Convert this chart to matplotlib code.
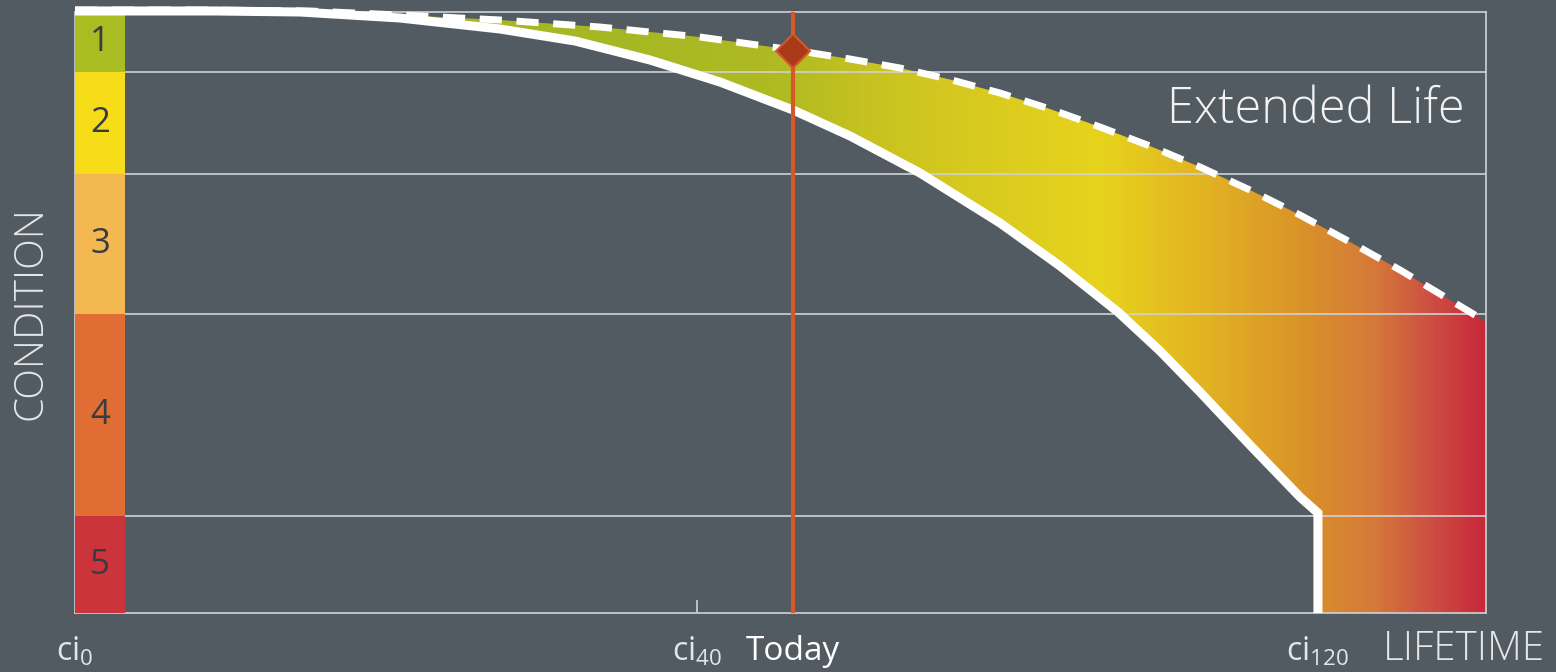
import numpy as np
import matplotlib.pyplot as plt
from matplotlib.colors import LinearSegmentedColormap

plt.rcParams['font.family'] = ['Open Sans', 'DejaVu Sans']
plt.rcParams['mathtext.default'] = 'regular'

# condition bands (y scale 0..100, top = new)
band_edges = [0, 16.1, 49.75, 73.0, 90.0, 100]
band_labels = ["5", "4", "3", "2", "1"]
band_colors = ["#cb343b", "#e06d33", "#f3b84f", "#f7dd19", "#a9bd23"]

# planned life curve (solid)
solid_x = [0, 9.92, 15.95, 23.03, 30.12, 35.44, 40.75, 45.71, 50.89, 54.93, 59.89,
           65.56, 69.81, 73.92, 76.90, 79.73, 83.27, 86.82, 88.09, 88.09]
solid_y = [100.17, 100.17, 100.0, 99.0, 97.17, 95.17, 92.01, 88.35, 83.69, 79.37, 73.21,
           64.89, 57.74, 50.08, 43.59, 36.77, 27.95, 19.30, 16.64, 0]

# extended life curve (dashed)
ext_x = [0, 8.86, 16.65, 23.03, 30.12, 37.21, 44.29, 50.89, 54.93, 58.47, 62.01, 65.56,
         69.10, 72.64, 76.19, 79.73, 83.27, 86.82, 90.36, 93.91, 97.45, 99.57, 100]
ext_y = [100.33, 100.33, 100.17, 99.50, 98.67, 97.50, 95.84, 93.68, 92.18, 90.68, 88.77, 86.52,
         83.86, 80.87, 77.70, 74.21, 70.38, 66.22, 61.73, 57.07, 52.08, 49.08, 48.42]

today_x = 50.89
today_y = 93.5
ci40_x = 44.1
ci120_x = 88.09

grad_pos = [0, 40, 50, 57, 64, 73, 80, 87, 92.5, 96, 100]
grad_colors = ["#a4b824", "#a6b823", "#b0ba22", "#c9c320", "#d8ca1f", "#e7d31d",
               "#e2b422", "#da9328", "#d5783a", "#cd5242", "#c82a3a"]

bg = "#525a62"
grid_col = "#cfd2d5"
text_col = "#e4e6e8"

fig = plt.figure(figsize=(15.56, 6.72), dpi=100, facecolor=bg)
ax = fig.add_axes([75 / 1556, 59 / 672, 1411 / 1556, 601 / 672])
ax.set_facecolor(bg)
ax.set_xlim(0, 100)
ax.set_ylim(0, 100)

# gradient band between the two curves
poly_x = ext_x + [100] + solid_x[::-1]
poly_y = ext_y + [0] + solid_y[::-1]
patch = ax.fill(poly_x, poly_y, facecolor="none", edgecolor="none")[0]
cmap = LinearSegmentedColormap.from_list("life", list(zip(np.array(grad_pos) / 100, grad_colors)))
grad = ax.imshow(np.linspace(0, 1, 600).reshape(1, -1), cmap=cmap, aspect="auto",
                 extent=[0, 100, 0, 100], zorder=1, interpolation="bilinear")
grad.set_clip_path(patch)

# grid lines
for e in band_edges[1:-1]:
    ax.axhline(e, color=grid_col, lw=1.2, zorder=2)
for s in ax.spines.values():
    s.set_color(grid_col)
    s.set_linewidth(1.2)

# condition column
for i in range(len(band_labels)):
    ax.axhspan(band_edges[i], band_edges[i + 1], xmin=0, xmax=3.54 / 100,
               color=band_colors[i], zorder=3, lw=0)
    ax.text(1.77, (band_edges[i] + band_edges[i + 1]) / 2, band_labels[i],
            ha="center", va="center", fontsize=25, color="#383c42", zorder=4)

# curves
ax.plot(solid_x, solid_y, color="white", lw=6.5, zorder=5, clip_on=False,
        solid_joinstyle="miter", solid_capstyle="butt")
ax.plot(ext_x[:-1], ext_y[:-1], color="white", lw=5, zorder=5, clip_on=False,
        dashes=(3.2, 2.1))

# today
ax.axvline(today_x, color="#d4582a", lw=3, zorder=6)
ax.plot(today_x, today_y, marker="D", markersize=17, color="#a83a1a",
        markeredgecolor="#d4582a", markeredgewidth=1.5, zorder=7)

# ci40 tick
ax.vlines(ci40_x, 0, 2.2, color=grid_col, lw=1.2, zorder=2)

ax.set_xticks([])
ax.set_yticks([])

xt = ax.get_xaxis_transform()
for xv, lab in [(0, r"ci$_{0}$"), (ci40_x, r"ci$_{40}$"), (ci120_x, r"ci$_{120}$")]:
    ax.text(xv, -0.08, lab, transform=xt, ha="center", va="baseline",
            fontsize=23, color=text_col, clip_on=False)
ax.text(today_x, -0.078, "Today", transform=xt, ha="center", va="baseline",
        fontsize=24, color="white", clip_on=False)

ax.text(98.5, 81.5, "Extended Life", ha="right", va="baseline", fontsize=35,
        color="#f2f2f2", fontweight="light", zorder=8)

fig.text(1545 / 1556, 12 / 672, "LIFETIME", ha="right", va="baseline", fontsize=29,
         color=text_col, fontweight="light")
fig.text(31 / 1556, 1 - 313 / 672, "CONDITION", rotation=90, ha="center", va="center",
         fontsize=29, color=text_col, fontweight="light")

fig.savefig("out.png", dpi=100, facecolor=bg)
